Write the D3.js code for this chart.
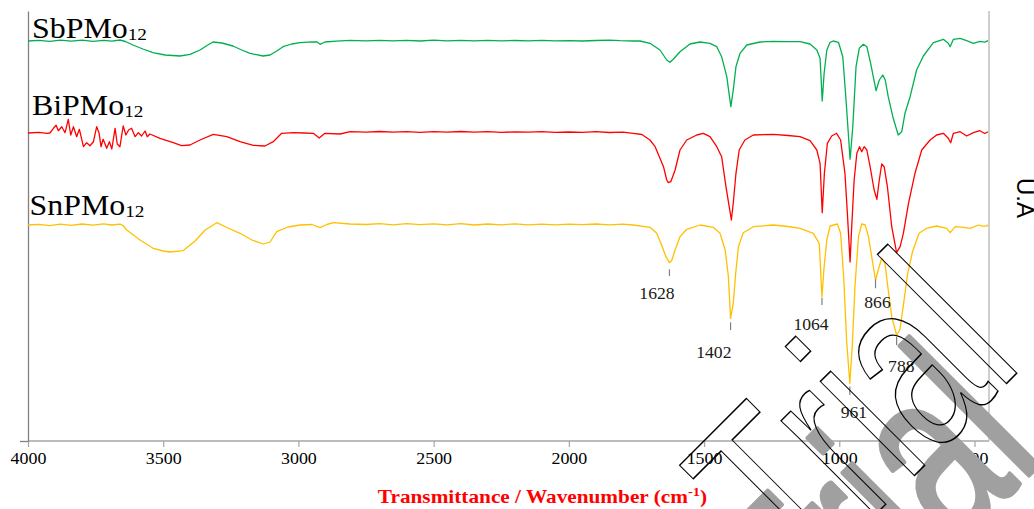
<!DOCTYPE html>
<html>
<head>
<meta charset="utf-8">
<script src="https://cdn.jsdelivr.net/npm/d3@7"></script>
<style>
  html, body { margin: 0; padding: 0; background: #fff; overflow: hidden; }
  svg { display: block; }
</style>
</head>
<body>
<svg id="chart" width="1034" height="509"></svg>
<script>
// FT-IR spectra of the three heteropolyacid salts, offset vertically (arbitrary units).
// Each series: [wavenumber (cm-1), signal (a.u.)]

const sbPMo12 = [
  [4000,400],[3960,400.6],[3920,399.6],[3880,400.8],[3840,399.8],[3800,400.9],[3760,399.7],[3720,400.7],[3690,399.9],[3660,401],[3640,399.5],
  [3612,396],[3575,392],[3538,388.3],[3493,386],[3438,385],[3401,386.7],[3364,391],[3335,396],[3316,399],[3283,398],[3242,395],[3210,391],
  [3179,387.7],[3131,385],[3105,386],[3080,390],[3057,394.3],[3025,397],[2994,398.3],[2950,399.2],[2931,399],[2920,396.7],[2902,399],[2860,399.8],[2809,400.7],
  [2750,400.2],[2700,400.7],[2650,400.1],[2600,400.6],[2550,400],[2500,400.8],[2450,400.2],[2400,400.6],[2350,400.1],[2300,400.7],[2250,400.2],
  [2200,400.5],[2150,400.1],[2100,400.6],[2050,400.2],[2000,400.4],[1950,400],[1900,400.5],[1850,400.9],[1811,400.3],[1762,400],[1737,400],
  [1700,397.7],[1663,391],[1638,381],[1626,378.7],[1614,381.7],[1589,389.3],[1552,397],[1515,399],[1478,397.7],[1453,394.3],[1435,384.3],
  [1416,364.3],[1401,334.3],[1392,351],[1382,374.3],[1367,387.7],[1342,396],[1293,399],[1244,399.7],[1190,399.4],[1145,399.3],[1108,397],
  [1083,391],[1071,382.7],[1063,340],[1056,367.7],[1046,391],[1034,398.7],[1022,400],[1003,398.7],[987,384.3],[975,341],[960,281.7],
  [950,314.3],[938,374.3],[926,392.7],[911,396.7],[898,394.3],[884,377.7],[864,350.3],[852,361],[839,366],[830,361],[819,344.3],[802,324.3],
  [782,306],[769,309.3],[757,327.7],[738,344.3],[714,371],[689,385],[652,398.3],[615,401.7],[597,397.7],[590,394.3],[578,401.7],[553,402.7],
  [529,400.3],[504,397.7],[480,399.7],[462,398.8],[450,400.3]
];

const biPMo12 = [
  [4000,308],[3960,308.6],[3930,307.6],[3919,308],[3906,312.7],[3896,315.7],[3888,310.3],[3875,314.3],[3863,308.3],[3851,321.7],[3842,306],
  [3832,314.3],[3820,304.3],[3810,311.7],[3795,294.3],[3783,298.3],[3771,295.3],[3758,299.3],[3746,314.3],[3737,307.7],[3730,294.3],[3722,301.7],
  [3709,292.7],[3699,299.3],[3690,292],[3678,312.7],[3670,297],[3660,294.3],[3648,315],[3638,306],[3628,311],[3617,312.7],[3604,304.3],
  [3592,308.3],[3580,305],[3567,310],[3559,304.3],[3549,307],[3512,302.7],[3463,298.3],[3432,295.3],[3401,296],[3364,301],[3315,306.7],
  [3265,304.3],[3216,299.3],[3167,295.7],[3124,295],[3093,299.3],[3062,307.7],[3019,308.3],[2980,308],[2945,307.7],[2923,303],[2902,307.7],
  [2846,307],[2809,309.3],[2750,308.8],[2700,309.5],[2650,308.9],[2600,309.4],[2550,308.7],[2500,309.3],[2450,308.8],[2400,309.5],[2350,308.9],
  [2300,309.3],[2250,308.6],[2200,309.2],[2150,308.8],[2100,309.4],[2050,308.7],[2000,309],[1950,308.6],[1900,309.3],[1850,308.5],[1800,308.9],
  [1762,307.7],[1730,306.5],[1700,301],[1681,294.3],[1663,282.7],[1650,274.3],[1638,261],[1632,258.3],[1623,259.3],[1607,271],[1589,291],
  [1564,301],[1527,306],[1503,307.7],[1478,304.3],[1453,294.3],[1435,284.3],[1419,254.3],[1407,234.3],[1399,221],[1392,237.7],[1382,267.7],
  [1370,291],[1349,301],[1318,306],[1244,306.7],[1190,305.5],[1145,304.3],[1108,300.3],[1083,291],[1071,277.7],[1063,228.3],[1055,267.7],
  [1044,297.7],[1028,305],[1010,307.7],[995,301],[979,267.7],[970,227.7],[960,179],[954,214.3],[945,261],[935,287.7],[925,294.3],[917,289.3],
  [908,294.3],[898,291],[886,274.3],[871,251],[861,241.7],[852,261],[843,277],[834,274.3],[822,254.3],[806,214.3],[788,188.3],[775,194.3],
  [763,207.7],[744,237.7],[720,267.7],[695,291],[664,301],[640,306],[615,307.7],[597,302.7],[588,298.3],[578,307.7],[553,309.3],[529,305],
  [504,308.3],[480,310.3],[462,307.5],[450,309.3]
];

const snPMo12 = [
  [4000,216],[3960,216.6],[3920,215.4],[3880,216.8],[3840,215.7],[3800,217],[3760,215.8],[3720,217.2],[3690,216],[3660,216.8],[3648,215.5],
  [3635,211],[3610,206],[3586,201],[3537,192.7],[3500,190],[3475,189],[3427,190.3],[3382,200],[3345,211],[3302,218.3],[3260,213],[3216,207.7],
  [3172,201],[3130,197],[3105,199],[3080,209.3],[3039,214],[2994,216],[2950,216.5],[2920,213.3],[2895,216.5],[2871,218.3],[2809,217],
  [2750,216.5],[2700,217.4],[2650,216.2],[2600,217.3],[2550,216.3],[2500,217.2],[2450,216.1],[2400,217.3],[2350,216],[2300,217],[2250,216.2],
  [2200,217.1],[2150,216.2],[2100,216.9],[2050,216.1],[2000,216.8],[1950,216.4],[1900,217],[1850,216.2],[1800,216.8],[1762,216],
  [1700,213.7],[1675,207.7],[1657,196],[1641,184.3],[1628,178.3],[1620,180.3],[1607,191],[1589,204.3],[1564,211.7],[1515,216],[1466,213.7],
  [1441,207.7],[1422,191],[1410,164.3],[1402,122.7],[1392,137.7],[1383,167.7],[1373,194.3],[1355,208.3],[1318,214.3],[1244,216],[1190,214.5],
  [1145,212.7],[1096,207.7],[1074,197.7],[1064,144.3],[1056,174.3],[1046,201],[1034,215],[1007,217],[995,207.7],[983,161],[973,101],[961,57.7],
  [952,94.3],[942,154.3],[929,204.3],[917,217],[904,216],[892,204.3],[876,177.7],[866,161],[856,171],[843,182.7],[831,177.7],[819,151],
  [806,124.3],[788,106],[776,111],[762,137.7],[747,167.7],[729,189.3],[705,207.7],[677,212.7],[640,215],[603,212.7],[590,208.3],[571,214.3],
  [541,213.7],[516,212.7],[485,216],[470,214.8],[455,215],[450,216.2]
];

const seriesNames = ["SbPMo", "BiPMo", "SnPMo"];
const seriesSubscript = "12";
const seriesColors = ["#00b050", "#ff0000", "#ffc000"];

const xTicks = [4000, 3500, 3000, 2500, 2000, 1500, 1000, 500];
const peaks = [1628, 1402, 1064, 961, 866, 788];   // band positions marked on SnPMo12

// ---- layout ----
const svg = d3.select("#chart");
const x = d3.scaleLinear().domain([4000, 450]).range([28, 988]);
const y = d3.scaleLinear().domain([0, 430]).range([441, 11]);
const SX = 1.12;   // horizontal glyph widening used for the labels
const SERIF = "'Liberation Serif','Times New Roman',serif";
const SANS = "'Liberation Sans',Arial,sans-serif";

const nameAnchors = [[32, 37.7], [32, 115], [29.5, 215]];
const peakLabelNudge = [[-12.5, 36.6], [-16.7, 40], [-11, 33.3], [4, 35], [2, 28.3], [4.7, 36.7]];
const peakTickNudge = [[6.6, 13.3], [4, 11.7], [1, 8.3], [3.3, 11.7], [-0.7, 8.3], [1.7, 10]];

// ---- axes ----
const xAxis = d3.axisBottom(x).tickValues(xTicks).tickSize(6).tickSizeOuter(0).tickFormat(d3.format("d"));
const gx = svg.append("g")
  .attr("transform", `translate(0,${y(0)})`)
  .call(xAxis)
  .attr("font-family", SERIF)
  .attr("font-size", 16);
gx.select(".domain").attr("stroke", "#a6a6a6").attr("stroke-width", 1.3)
  .attr("d", `M${x(4000)},0H${x(450) + 1}`);
gx.selectAll(".tick line").attr("stroke", "#a6a6a6").attr("stroke-width", 1.2);
gx.selectAll(".tick text")
  .attr("y", 0).attr("dy", 0)
  .attr("transform", `translate(0,23) scale(${SX},1)`)
  .attr("fill", "#000")
  .attr("font-family", SERIF)
  .style("font-family", SERIF)
  .style("font-size", "16px");

const yAxis = d3.axisLeft(y).tickValues([0]).tickFormat("").tickSize(8).tickSizeOuter(0);
const gy = svg.append("g").attr("transform", `translate(${x(4000)},0)`).call(yAxis);
gy.select(".domain").attr("stroke", "#808080").attr("stroke-width", 1.3);
gy.selectAll(".tick line").attr("stroke", "#808080").attr("stroke-width", 1.3);

// right frame line
svg.append("line")
  .attr("x1", x(450) + 1).attr("x2", x(450) + 1)
  .attr("y1", y(430)).attr("y2", y(0))
  .attr("stroke", "#bfbfbf").attr("stroke-width", 1.5);

// ---- spectra ----
const line = d3.line().x(d => x(d[0])).y(d => y(d[1]));
const allSeries = [sbPMo12, biPMo12, snPMo12];
svg.append("g").selectAll("path")
  .data(allSeries)
  .join("path")
  .attr("d", line)
  .attr("fill", "none")
  .attr("stroke", (d, i) => seriesColors[i])
  .attr("stroke-width", 1.3)
  .attr("stroke-linejoin", "round");

// series names with subscript
const names = svg.append("g").selectAll("text")
  .data(seriesNames)
  .join("text")
  .attr("transform", (d, i) => `translate(${nameAnchors[i][0]},${nameAnchors[i][1]}) scale(1.1,1)`)
  .style("font-family", SERIF)
  .style("font-size", "29px")
  .attr("fill", "#000");
names.append("tspan").text(d => d);
names.append("tspan").attr("dy", 2).style("font-size", "17.5px").text(seriesSubscript);

// ---- peak markers on the lower trace ----
const valueAt = wn => snPMo12.find(p => p[0] === wn)[1];
const pk = svg.append("g");
peaks.forEach((wn, i) => {
  const px = x(wn), py = y(valueAt(wn));
  pk.append("line")
    .attr("x1", px).attr("x2", px)
    .attr("y1", py + peakTickNudge[i][0]).attr("y2", py + peakTickNudge[i][1])
    .attr("stroke", "#7f7f7f").attr("stroke-width", 1.2);
  pk.append("text")
    .attr("transform", `translate(${px + peakLabelNudge[i][0]},${py + peakLabelNudge[i][1]}) scale(1.1,1)`)
    .attr("text-anchor", "middle")
    .style("font-family", SERIF)
    .style("font-size", "16px")
    .attr("fill", "#1a1a1a")
    .text(wn);
});

// ---- axis titles ----
const xt = svg.append("text")
  .attr("transform", `translate(542.5,503) scale(${SX},1)`)
  .attr("text-anchor", "middle")
  .style("font-family", SERIF)
  .style("font-size", "19px")
  .style("font-weight", "bold")
  .attr("fill", "#ff0000");
xt.append("tspan").text("Transmittance / Wavenumber (cm");
xt.append("tspan").attr("dy", -7).style("font-size", "13px").text("-1");
xt.append("tspan").attr("dy", 7).text(")");

svg.append("text")
  .attr("transform", "translate(1017,178) rotate(90)")
  .style("font-family", SANS)
  .style("font-size", "24px")
  .attr("fill", "#000")
  .text("U.A");

// ---- watermark overlay: grey shadow, then outlined word ----
const wm = svg.append("g").attr("pointer-events", "none");
wm.append("text")
  .attr("transform", "translate(821.5,682.5) rotate(-45) scale(0.663,1)")
  .style("font-family", SANS)
  .style("font-size", "252px")
  .attr("fill", "#a0a0a0")
  .attr("stroke", "#a0a0a0")
  .attr("stroke-width", 4)
  .attr("stroke-linejoin", "round")
  .attr("vector-effect", "non-scaling-stroke")
  .text("Trial");
wm.append("text")
  .attr("transform", "translate(799.5,590.5) rotate(-45) scale(0.663,1)")
  .style("font-family", SANS)
  .style("font-size", "252px")
  .attr("fill", "none")
  .attr("stroke", "#000")
  .attr("stroke-width", 1.3)
  .attr("vector-effect", "non-scaling-stroke")
  .text("Trial");
</script>
</body>
</html>
